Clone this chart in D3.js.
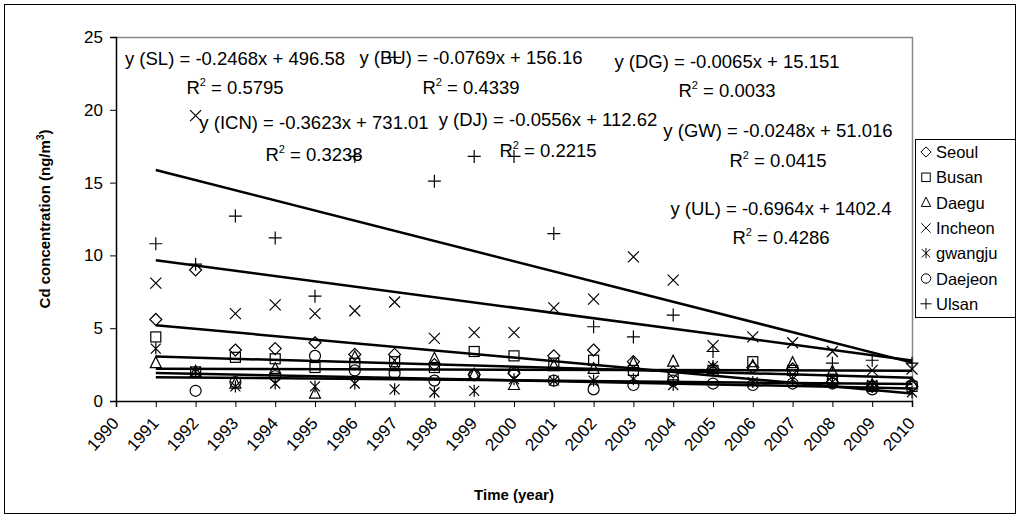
<!DOCTYPE html>
<html><head><meta charset="utf-8">
<script src="https://cdn.jsdelivr.net/npm/d3@7"></script>
<style>body{margin:0;background:#fff}svg text{font-family:"Liberation Sans",Arial,sans-serif;fill:#000}</style>
</head><body><svg id="c" width="1020" height="520"></svg>
<script>
const years = [1991,1992,1993,1994,1995,1996,1997,1998,1999,2000,2001,2002,2003,2004,2005,2006,2007,2008,2009,2010];
const axisYears = [1990,1991,1992,1993,1994,1995,1996,1997,1998,1999,2000,2001,2002,2003,2004,2005,2006,2007,2008,2009,2010];
const yTicks = [0,5,10,15,20,25];
const seoul   = [5.6,9.0,3.5,3.6,4.0,3.2,3.2,2.5,1.8,1.9,3.1,3.5,2.7,2.0,2.2,2.3,2.2,1.3,1.0,1.0];
const busan   = [4.4,2.0,3.0,2.9,2.3,2.6,2.7,2.3,3.4,3.1,2.6,2.8,2.1,1.8,2.1,2.7,2.1,1.5,1.0,1.0];
const daegu   = [2.6,2.0,1.2,2.2,0.5,3.0,2.4,2.9,1.8,1.1,2.4,2.2,2.6,2.7,2.2,2.4,2.6,2.0,1.1,1.2];
const incheon = [8.1,19.6,6.0,6.6,6.0,6.2,6.8,4.3,4.7,4.7,6.4,7.0,9.9,8.3,3.8,4.4,4.0,3.4,2.1,2.2];
const gwangju = [3.6,2.0,1.0,1.2,1.0,1.2,0.8,0.6,0.7,1.5,1.4,1.4,1.5,1.1,2.4,1.3,1.5,1.3,1.1,0.6];
const daejeon = [null,0.7,1.3,1.7,3.1,2.1,1.9,1.4,1.8,2.0,1.4,0.8,1.1,1.4,1.2,1.1,1.2,1.2,0.8,1.1];
const ulsan   = [10.8,9.4,12.7,11.2,7.2,16.8,23.6,15.1,16.8,16.8,11.5,5.1,4.4,5.9,3.4,null,null,2.6,2.8,2.6];
const seriesNames = ["Seoul","Busan","Daegu","Incheon","gwangju","Daejeon","Ulsan"];
const seriesValues = [seoul,busan,daegu,incheon,gwangju,daejeon,ulsan];
const seriesSymbols = ["diamond","square","triangle","x","star","circle","plus"];
// trendline equations (as printed on chart)
const trendSlopes = [-0.2468,-0.0769,-0.0065,-0.3623,-0.0248,-0.0556,-0.6964];
const trendIntercepts = [496.58,156.16,15.151,731.01,51.016,112.62,1402.4];
const trendR2 = ["0.5795","0.4339","0.0033","0.3238","0.0415","0.2215","0.4286"];
const trendEqText = ["y (SL) = -0.2468x + 496.58","y (BU) = -0.0769x + 156.16","y (DG) = -0.0065x + 15.151","y (ICN) = -0.3623x + 731.01","y (GW) = -0.0248x + 51.016","y (DJ) = -0.0556x + 112.62","y (UL) = -0.6964x + 1402.4"];
// label layout (centre x, line1 centre y, line2 centre y)
const labelPos = [[235,59,88],[471,58,88],[727,62,91],[314,123,155],[778,131,161],[548,120,151],[781,209,238]];

const svg = d3.select("#c");
const L=116,R=912,T=37,B=401;
const x = d3.scaleLinear().domain([1990,2010]).range([L,R]);
const y = d3.scaleLinear().domain([0,25]).range([B,T]);

svg.append("rect").attr("x",4.5).attr("y",4.5).attr("width",1011).attr("height",509).attr("fill","none").attr("stroke","#000").attr("stroke-width",1);

// plot border top/right
svg.append("path").attr("d",`M${L},${T+0.5}H${R+0.5}V${B}`).attr("fill","none").attr("stroke","#888").attr("stroke-width",1.5);

function sym(g,type,s){
  const k=s||1;
  if(type==="diamond") g.append("path").attr("d",`M0,${-6*k}L${6*k},0L0,${6*k}L${-6*k},0Z`);
  else if(type==="square") g.append("rect").attr("x",-5*k).attr("y",-5*k).attr("width",10*k).attr("height",10*k);
  else if(type==="triangle") g.append("path").attr("d",`M0,${-6.5*k}L${5.5*k},${4.5*k}L${-5.5*k},${4.5*k}Z`);
  else if(type==="x") g.append("path").attr("d",`M${-5.5*k},${-5.5*k}L${5.5*k},${5.5*k}M${5.5*k},${-5.5*k}L${-5.5*k},${5.5*k}`);
  else if(type==="star") g.append("path").attr("d",`M${-5*k},${-5*k}L${5*k},${5*k}M${5*k},${-5*k}L${-5*k},${5*k}M0,${-6*k}L0,${6*k}`);
  else if(type==="circle") g.append("circle").attr("r",5.5*k);
  else if(type==="plus") g.append("path").attr("d",`M${-6.5*k},0L${6.5*k},0M0,${-6.5*k}L0,${6.5*k}`);
}

// markers
seriesValues.forEach((vals,i)=>{
  const g = svg.append("g").attr("fill","none").attr("stroke","#000").attr("stroke-width",1.2);
  years.forEach((yr,j)=>{
    if(vals[j]==null) return;
    const m = g.append("g").attr("transform",`translate(${x(yr)},${y(vals[j])})`);
    sym(m,seriesSymbols[i]);
  });
});

// trendlines
trendSlopes.forEach((s,i)=>{
  const x0=years[0], x1=years[years.length-1];
  svg.append("line").attr("x1",x(x0)).attr("y1",y(s*x0+trendIntercepts[i]))
    .attr("x2",x(x1)).attr("y2",y(s*x1+trendIntercepts[i]))
    .attr("stroke","#000").attr("stroke-width",2.5);
});

// axes
const ya = svg.append("g").attr("transform",`translate(${L},0)`).call(d3.axisLeft(y).tickValues(yTicks).tickSize(6).tickPadding(7));
ya.select(".domain").attr("stroke","#000").attr("stroke-width",1.5);
ya.selectAll("text").attr("font-size",17).style("font-family","Liberation Sans, Arial");
const xa = svg.append("g").attr("transform",`translate(0,${B})`).call(d3.axisBottom(x).tickValues(axisYears).tickFormat(d3.format("d")).tickSize(6));
xa.select(".domain").attr("stroke","#000").attr("stroke-width",1.5);
xa.selectAll("text").attr("font-size",17).attr("text-anchor","end").attr("x",0).attr("y",0).attr("dy","0.35em")
  .attr("transform","translate(-1,19) rotate(-48)").style("font-family","Liberation Sans, Arial");

// axis titles
svg.append("text").attr("x",(L+R)/2).attr("y",500).attr("text-anchor","middle").attr("font-size",15).attr("font-weight","bold").text("Time (year)");
const yt = svg.append("text").attr("transform",`translate(50,${(T+B)/2}) rotate(-90)`).attr("text-anchor","middle").attr("font-size",15).attr("font-weight","bold");
yt.append("tspan").text("Cd concentration (ng/m");
yt.append("tspan").attr("font-size",10).attr("dy",-6).text("3");
yt.append("tspan").attr("dy",6).text(")");

// equation labels
trendEqText.forEach((t,i)=>{
  const p = labelPos[i];
  svg.append("text").attr("x",p[0]).attr("y",p[1]+6).attr("text-anchor","middle").attr("font-size",18.5).text(t);
  const r = svg.append("text").attr("x",p[0]).attr("y",p[2]+6).attr("text-anchor","middle").attr("font-size",18.5);
  r.append("tspan").text("R");
  r.append("tspan").attr("font-size",11).attr("dy",-8).text("2");
  r.append("tspan").attr("dy",8).text(" = "+trendR2[i]);
});

// legend
const lg = svg.append("g");
lg.append("rect").attr("x",915.5).attr("y",139.5).attr("width",100).attr("height",178).attr("fill","#fff").attr("stroke","#000");
seriesNames.forEach((n,i)=>{
  const cy = 152 + i*25.3;
  const m = lg.append("g").attr("transform",`translate(926,${cy})`).attr("fill","none").attr("stroke","#000").attr("stroke-width",1);
  sym(m,seriesSymbols[i],0.85);
  lg.append("text").attr("x",936).attr("y",cy+6).attr("font-size",16.5).text(n);
});
</script></body></html>
